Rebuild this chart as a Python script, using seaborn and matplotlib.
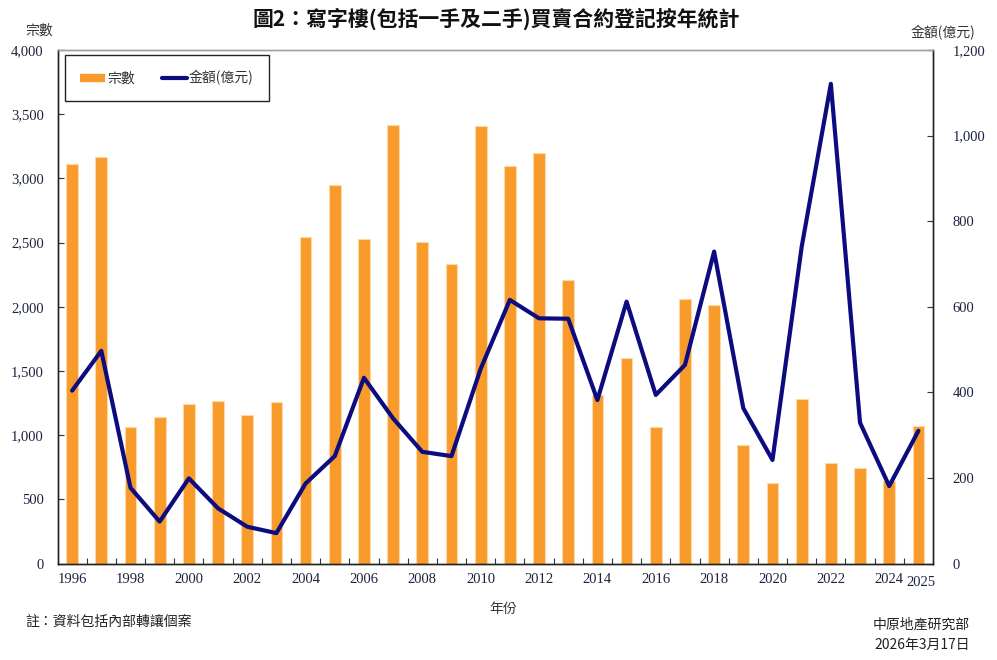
import matplotlib
matplotlib.use("Agg")
import matplotlib.pyplot as plt
import matplotlib.transforms as mtransforms
from matplotlib.lines import Line2D
from matplotlib.ticker import FuncFormatter, FixedLocator
import numpy as np
import pandas as pd
import seaborn as sns

years = [str(y) for y in range(1996, 2026)]
counts = [3112, 3164, 1061, 1144, 1242, 1263, 1159, 1258, 2541, 2951,
          2525, 3416, 2502, 2333, 3411, 3094, 3195, 2206, 1315, 1598,
          1063, 2063, 2011, 925, 625, 1279, 780, 744, 645, 1071]
amounts = [404, 497, 177, 98, 199, 129, 86, 71, 187, 251,
           434, 339, 261, 251, 455, 616, 573, 572, 382, 612,
           394, 464, 729, 363, 242, 740, 1121, 329, 181, 310]
tick_years = [str(y) for y in range(1996, 2025, 2)] + ["2025"]

title = "圖2：寫字樓(包括一手及二手)買賣合約登記按年統計"
left_label = "宗數"
right_label = "金額(億元)"
x_label = "年份"
note = "註：資料包括內部轉讓個案"
source = "中原地產研究部"
date = "2026年3月17日"
legend_labels = ["宗數", "金額(億元)"]

BAR = "#F99B2B"
LINE = "#0C0C80"
TXT = "#1c2340"
CJK = ["Noto Sans CJK TC", "DejaVu Sans"]
SERIF = ["Liberation Serif", "DejaVu Serif"]

sns.set_theme(style="white")
plt.rcParams["font.family"] = CJK

df = pd.DataFrame({"year": years, "count": counts, "amount": amounts})

fig = plt.figure(figsize=(9.97, 6.6), dpi=100)
ax = fig.add_axes([0.0577, 0.1462, 0.8781, 0.7780])

sns.barplot(data=df, x="year", y="count", color=BAR, width=0.40,
            edgecolor="#FCD9A5", linewidth=0.8, saturation=1, ax=ax)
ax.set_xlim(-0.5, len(years) - 0.5)
ax.set_ylim(0, 4000)
ax.set_yticks(np.arange(0, 4001, 500))
ax.yaxis.set_major_formatter(FuncFormatter(lambda v, p: f"{int(v):,}"))

ax2 = ax.twinx()
sns.lineplot(x=np.arange(len(years)), y=amounts, color=LINE, linewidth=3,
             ax=ax2, legend=False)
ax2.set_ylim(0, 1200)
ax2.set_yticks(np.arange(0, 1201, 200))
ax2.yaxis.set_major_formatter(FuncFormatter(lambda v, p: f"{int(v):,}"))
ax2.set_xlim(-0.5, len(years) - 0.5)

# x ticks
pos = [years.index(t) for t in tick_years]
ax.xaxis.set_major_locator(FixedLocator(pos))
ax.set_xticklabels(tick_years)
ax.xaxis.set_minor_locator(FixedLocator(np.arange(0.5, len(years) - 1, 1.0)))
ax.tick_params(axis="x", which="major", length=0, pad=7)
ax.tick_params(axis="x", which="minor", direction="in", length=4, width=0.8,
               color="#333333", bottom=True)
ax.tick_params(axis="y", direction="in", length=4, width=0.8, color="#333333",
               pad=10, left=True)
ax2.tick_params(axis="y", direction="in", length=4, width=0.8, color="#333333",
                pad=14, right=True)
for lab in ax.get_xticklabels() + ax.get_yticklabels() + ax2.get_yticklabels():
    lab.set_fontfamily(SERIF)
    lab.set_fontsize(10.5)
    lab.set_color(TXT)
last = ax.get_xticklabels()[-1]
last.set_transform(last.get_transform() +
                   mtransforms.ScaledTranslation(3 / 100, -3 / 100, fig.dpi_scale_trans))

ax.set_xlabel("")
ax.set_ylabel("")
ax2.set_ylabel("")

for a in (ax, ax2):
    for side in ("left", "right", "bottom"):
        a.spines[side].set_color("#222222")
        a.spines[side].set_linewidth(1.0)
    a.spines["top"].set_color("#A0A0A0")
    a.spines["top"].set_linewidth(1.0)

handles = [Line2D([0], [0], color=BAR, linewidth=6, solid_capstyle="butt"),
           Line2D([0], [0], color=LINE, linewidth=3)]
leg = ax2.legend(handles, legend_labels, loc="upper left",
                 bbox_to_anchor=(0.0086, 0.99), ncol=2, frameon=True,
                 fancybox=False, edgecolor="#222222", framealpha=1,
                 borderpad=1.1, handlelength=1.8, handletextpad=0.1,
                 columnspacing=2.0, borderaxespad=0,
                 prop={"family": CJK, "size": 10})
leg.get_frame().set_linewidth(1.0)
for t in leg.get_texts():
    t.set_color("#333333")

fig.text(0.498, 0.972, title, ha="center", va="center", fontsize=15,
         fontweight="bold", color="#111111")
fig.text(0.039, 0.953, left_label, ha="center", va="center", fontsize=10,
         color="#333333")
fig.text(0.946, 0.951, right_label, ha="center", va="center", fontsize=10,
         color="#333333")
fig.text(0.505, 0.077, x_label, ha="center", va="center", fontsize=10,
         color="#333333")
fig.text(0.025, 0.058, note, ha="left", va="center", fontsize=10,
         color="#222222")
fig.text(0.973, 0.053, source, ha="right", va="center", fontsize=10,
         color="#222222")
fig.text(0.973, 0.023, date, ha="right", va="center", fontsize=10,
         color="#222222", family=CJK)

fig.savefig("out.png", dpi=100)
